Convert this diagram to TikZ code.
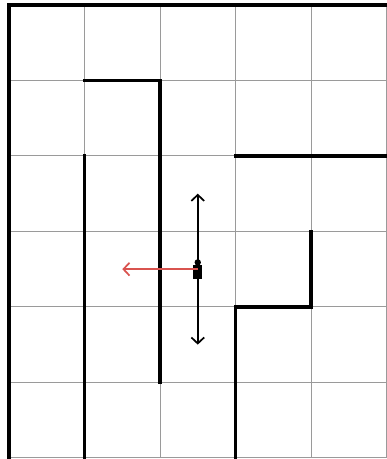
\documentclass[tikz,border=0pt]{standalone}
\usepackage{tikz}
\usetikzlibrary{arrows.meta,positioning}
\definecolor{gridGray}{HTML}{9A9A9A}
\definecolor{moveRed}{HTML}{D9534F}

\begin{document}
\begin{tikzpicture}[
    x=2cm, y=2cm,
    gridline/.style={draw=gridGray, line width=0.7pt},
    wall/.style={draw=black, line width=2.6pt, line cap=rect},
    move/.style={-{Straight Barb[length=1.6mm, width=3.4mm]}, line width=1.3pt, black},
    pick/.style={move, moveRed},
    robot/.style={rectangle, fill=black, minimum width=0.24cm, minimum height=0.36cm, inner sep=0pt},
    head/.style={circle, fill=black, minimum size=0.17cm, inner sep=0pt},
]
    \useasboundingbox (-0.12,-0.015) rectangle (5.0,6.066);

    % Grid
    \draw[gridline, step=2cm] (0,0) grid (5,6);

    % Outer walls
    \draw[wall] (0,0) -- (0,6) -- (5,6);

    % Inner walls
    \draw[wall] (1,0) -- (1,4);
    \draw[wall] (1,5) -- (2,5) -- (2,1);
    \draw[wall] (3,4) -- (5,4);
    \draw[wall] (4,3) -- (4,2) -- (3,2) -- (3,0);

    % Robot
    \node[robot] (robot) at (2.5,2.46) {};
    \node[head, above=-0.02cm of robot] (head) {};

    % Moves
    \coordinate (up) at (2.5,3.5);
    \coordinate (down) at (2.5,1.5);
    \coordinate (left) at (1.5,2.5);
    \draw[move] (robot.center) -- (up);
    \draw[move] (robot.center) -- (down);
    \draw[pick] (robot.center |- left) -- (left);
\end{tikzpicture}
\end{document}
